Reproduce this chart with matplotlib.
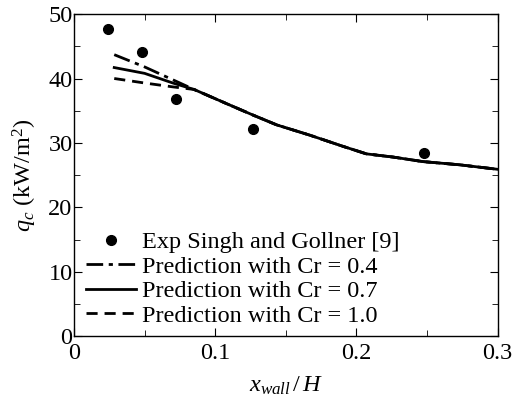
import matplotlib
matplotlib.use('Agg')
import matplotlib.pyplot as plt
from matplotlib.ticker import MultipleLocator

plt.rcParams['font.family'] = ['Liberation Serif', 'DejaVu Serif']
plt.rcParams['mathtext.fontset'] = 'custom'
plt.rcParams['mathtext.rm'] = 'Liberation Serif'
plt.rcParams['mathtext.it'] = 'Liberation Serif:italic'

# experimental data
exp_x = [0.024, 0.048, 0.072, 0.127, 0.248]
exp_q = [47.7, 44.1, 36.8, 32.2, 28.4]

# predictions (shared tail beyond convergence)
tail_x = [0.085, 0.108, 0.127, 0.1435, 0.167, 0.19, 0.207, 0.226, 0.247, 0.273, 0.3]
tail_q = [38.3, 36.1, 34.3, 32.8, 31.2, 29.5, 28.3, 27.8, 27.1, 26.6, 25.9]

cr04_x = [0.0285, 0.05, 0.07] + tail_x
cr04_q = [43.7, 41.8, 39.8] + tail_q
cr07_x = [0.0285, 0.05, 0.07] + tail_x
cr07_q = [41.7, 40.8, 39.3] + tail_q
cr10_x = [0.0285, 0.05, 0.07] + tail_x
cr10_q = [40.0, 39.3, 38.7] + tail_q

fig = plt.figure(figsize=(5.12, 4.03), dpi=100)
ax = fig.add_axes([0.1445, 0.166, 0.8275, 0.799])

ax.plot(exp_x, exp_q, 'o', color='black', markersize=7, label='Exp Singh and Gollner [9]')
ax.plot(cr04_x, cr04_q, color='black', lw=2, dashes=(6, 2, 1.5, 2), label='Prediction with Cr = 0.4')
ax.plot(cr07_x, cr07_q, color='black', lw=2, label='Prediction with Cr = 0.7')
ax.plot(cr10_x, cr10_q, color='black', lw=2, dashes=(4, 2.5), label='Prediction with Cr = 1.0')

ax.set_xlim(0, 0.3)
ax.set_ylim(0, 50)
ax.xaxis.set_ticks([0, 0.1, 0.2, 0.3])
ax.set_xticklabels(['0', '0.1', '0.2', '0.3'])
ax.xaxis.set_minor_locator(MultipleLocator(0.05))
ax.yaxis.set_major_locator(MultipleLocator(10))
ax.yaxis.set_minor_locator(MultipleLocator(5))
ax.tick_params(which='both', direction='in', top=True, right=True, labelsize=17.5)
ax.tick_params(which='major', length=6)
ax.tick_params(which='minor', length=4)
ax.tick_params(axis='y', pad=1)
ax.tick_params(axis='x', pad=5)
for s in ax.spines.values():
    s.set_linewidth(1)

ax.set_xlabel(r'$x_{wall}\,/\,H$', fontsize=17.5, labelpad=8)
ax.set_ylabel(r'$q_c$ (kW/m$^2$)', fontsize=17.5, labelpad=7)

ax.legend(loc='lower left', frameon=False, fontsize=17.5, handlelength=2.05,
          handletextpad=0.25, labelspacing=0.1, borderaxespad=0.2,
          borderpad=0.3, bbox_to_anchor=(0.0, -0.008))

fig.savefig('out.png')
